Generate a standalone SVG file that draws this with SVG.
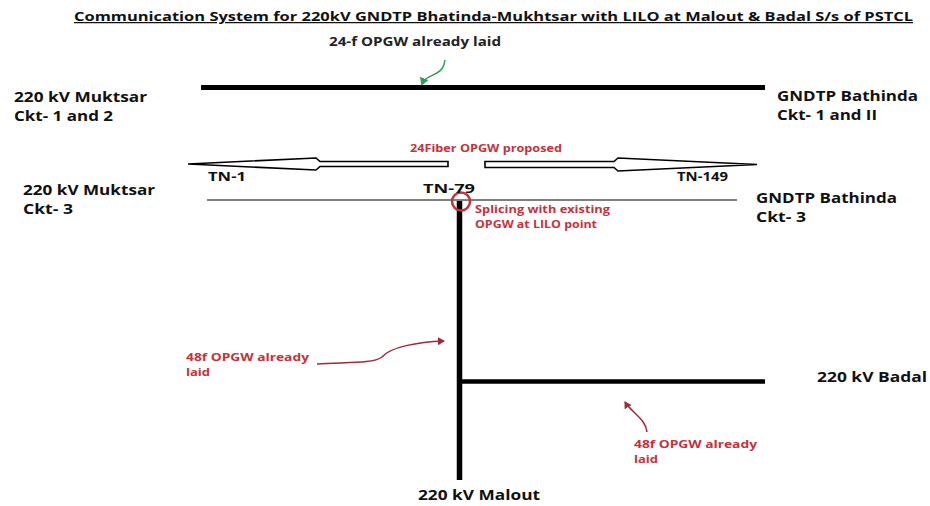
<svg xmlns="http://www.w3.org/2000/svg" width="930" height="506" viewBox="0 0 930 506">
<style>
text{font-family:"Open Sans","Liberation Sans",sans-serif;font-weight:bold}
.lbl{font-size:14px;fill:#111}
.red{font-size:11px;fill:#c4323c}
.sm{font-size:10.5px}
.note{font-size:11.5px;fill:#222}
.ttl{font-size:12.5px;fill:#111;text-decoration:underline}
.blk{stroke:#000;fill:none}
.rarr{stroke:#a3283a;stroke-width:1.5;fill:none}
</style>
<defs>
<marker id="ah-red" markerWidth="8" markerHeight="8" refX="6" refY="4" orient="auto" markerUnits="userSpaceOnUse">
<path d="M0,0 L7,4 L0,8 Z" fill="#a3283a"/>
</marker>
<marker id="ah-green" markerWidth="9" markerHeight="9" refX="6" refY="4.5" orient="auto" markerUnits="userSpaceOnUse">
<path d="M0,0 L8,4.5 L0,9 Z" fill="#2f9e5a"/>
</marker>
</defs>
<rect width="930" height="506" fill="#fff"/>
<text class="ttl" x="74" y="21" textLength="839" lengthAdjust="spacingAndGlyphs">Communication System for 220kV GNDTP Bhatinda-Mukhtsar with LILO at Malout &amp; Badal S/s of PSTCL</text>

<g id="connectors">
<line class="blk" x1="201" y1="87.5" x2="765" y2="87.5" stroke-width="5"/>
<line x1="207" y1="200" x2="737" y2="200" stroke="#555" stroke-width="1.6"/>
<line class="blk" x1="459.5" y1="201" x2="459.5" y2="480" stroke-width="5.5"/>
<line class="blk" x1="459.5" y1="381.5" x2="765" y2="381.5" stroke-width="4.5"/>
<polygon points="448,161.5 320,161.5 316,158 188,164 316,170 320,166.5 448,166.5" fill="#fff" stroke="#000" stroke-width="1.6"/>
<polygon points="485,161.5 614,161.5 618,158 757,164.5 618,171 614,167.5 485,167.5" fill="#fff" stroke="#000" stroke-width="1.6"/>
<path d="M445,60 C444,67 442,70 437,73 C429,77 424,79 422,84" stroke="#2f9e5a" stroke-width="1.5" fill="none" marker-end="url(#ah-green)"/>
<path class="rarr" d="M317,364 C345,362 373,364 382,357 C390,347 418,342 444,341" marker-end="url(#ah-red)"/>
<path class="rarr" d="M647,432 C646,419 631,412 625,402" marker-end="url(#ah-red)"/>
<circle cx="461" cy="201.5" r="9" fill="none" stroke="#c4323c" stroke-width="2.5"/>
</g>

<g id="muktsar12"><text class="lbl" x="14" y="102" textLength="133" lengthAdjust="spacingAndGlyphs">220 kV Muktsar</text><text class="lbl" x="14" y="121" textLength="99" lengthAdjust="spacingAndGlyphs">Ckt- 1 and 2</text></g>
<g id="bathinda12"><text class="lbl" x="777" y="101" textLength="141" lengthAdjust="spacingAndGlyphs">GNDTP Bathinda</text><text class="lbl" x="777" y="120" textLength="100" lengthAdjust="spacingAndGlyphs">Ckt- 1 and II</text></g>
<g id="muktsar3"><text class="lbl" x="23" y="195" textLength="132" lengthAdjust="spacingAndGlyphs">220 kV Muktsar</text><text class="lbl" x="23" y="214" textLength="50" lengthAdjust="spacingAndGlyphs">Ckt- 3</text></g>
<g id="bathinda3"><text class="lbl" x="756" y="203" textLength="141" lengthAdjust="spacingAndGlyphs">GNDTP Bathinda</text><text class="lbl" x="756" y="222" textLength="50" lengthAdjust="spacingAndGlyphs">Ckt- 3</text></g>
<g id="badal"><text class="lbl" x="817" y="382" textLength="110" lengthAdjust="spacingAndGlyphs">220 kV Badal</text></g>
<g id="malout"><text class="lbl" x="418" y="500" textLength="122" lengthAdjust="spacingAndGlyphs">220 kV Malout</text></g>

<g id="towers">
<text class="lbl" x="208" y="181" style="font-size:12px" textLength="38" lengthAdjust="spacingAndGlyphs">TN-1</text>
<text class="lbl" x="423" y="193" style="font-size:12px" textLength="52" lengthAdjust="spacingAndGlyphs">TN-79</text>
<text class="lbl" x="677" y="181" style="font-size:12px" textLength="51" lengthAdjust="spacingAndGlyphs">TN-149</text>
</g>

<g id="notes">
<text class="note" x="329" y="46" textLength="172" lengthAdjust="spacingAndGlyphs">24-f  OPGW already laid</text>
<text class="red" x="410" y="152" textLength="152" lengthAdjust="spacingAndGlyphs">24Fiber OPGW proposed</text>
<text class="red sm" x="475" y="213" textLength="135" lengthAdjust="spacingAndGlyphs">Splicing with existing</text>
<text class="red sm" x="475" y="228" textLength="122" lengthAdjust="spacingAndGlyphs">OPGW at LILO point</text>
<text class="red" x="186" y="361" textLength="123" lengthAdjust="spacingAndGlyphs">48f OPGW already</text>
<text class="red" x="186" y="376" textLength="24" lengthAdjust="spacingAndGlyphs">laid</text>
<text class="red" x="634" y="448" textLength="123" lengthAdjust="spacingAndGlyphs">48f OPGW already</text>
<text class="red" x="634" y="463" textLength="24" lengthAdjust="spacingAndGlyphs">laid</text>
</g>
</svg>
